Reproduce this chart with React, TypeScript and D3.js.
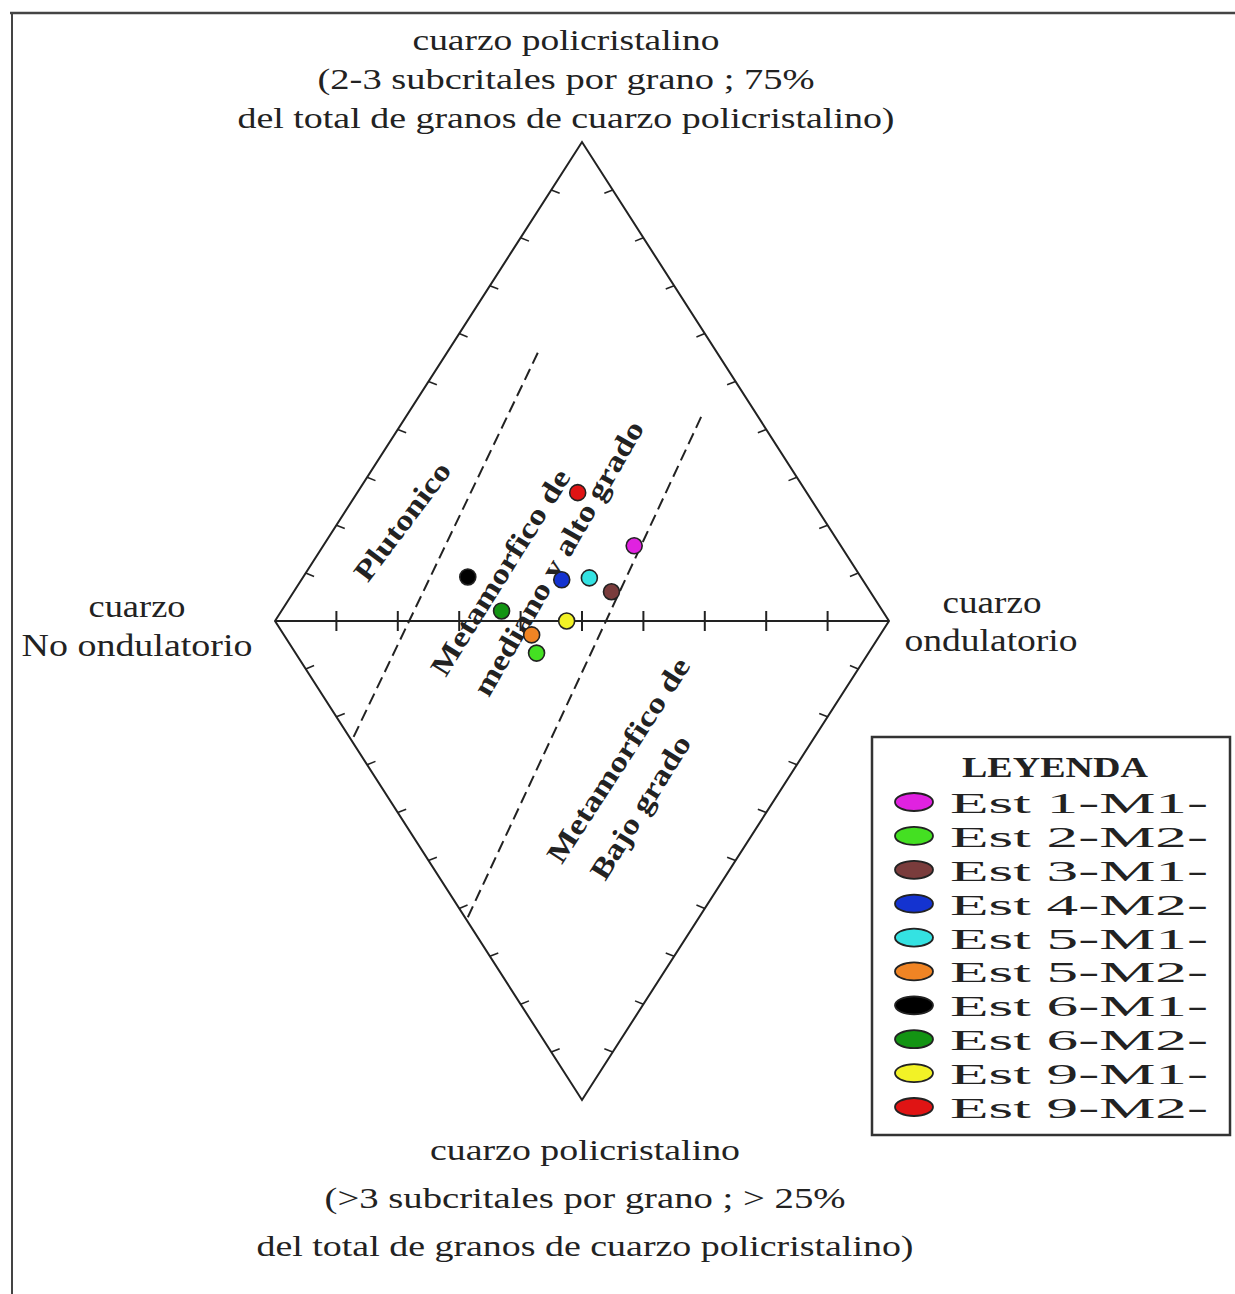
import * as d3 from "d3";

// diamond coordinates: u = 0..100 along the horizontal axis, v = -100..100 vertical
const TICKS = [10, 20, 30, 40, 50, 60, 70, 80, 90];

const SAMPLE_NAMES = [
  "Est 1-M1-", "Est 2-M2-", "Est 3-M1-", "Est 4-M2-", "Est 5-M1-",
  "Est 5-M2-", "Est 6-M1-", "Est 6-M2-", "Est 9-M1-", "Est 9-M2-",
];
const SAMPLE_COLORS = [
  "#e022e0", "#44e022", "#7a3c3c", "#1433d0", "#34e2e2",
  "#f08424", "#000000", "#139413", "#f2f226", "#e01414",
];
const SAMPLE_U = [58.5, 42.6, 54.8, 46.7, 51.2, 41.8, 31.4, 36.9, 47.5, 49.3];
const SAMPLE_V = [15.7, -6.7, 6.1, 8.6, 9.0, -2.9, 9.2, 2.1, 0, 26.8];

// field boundaries (dashed)
const BOUNDARY_U1 = [42.8, 69.4];
const BOUNDARY_V1 = [56.0, 42.6];
const BOUNDARY_U2 = [12.5, 31.2];
const BOUNDARY_V2 = [-25.0, -62.4];

const TOP_LABEL = [
  "cuarzo policristalino",
  "(2-3 subcritales por grano ;  75%",
  "del total de granos de cuarzo policristalino)",
];
const BOTTOM_LABEL = [
  "cuarzo policristalino",
  "(>3 subcritales por grano ; > 25%",
  "del total de granos de cuarzo policristalino)",
];

const W = 1235;
const H = 1294;
const FONT = "'Liberation Serif', 'Times New Roman', serif";

export default function App() {
  const x = d3.scaleLinear().domain([0, 100]).range([275, 889]);
  const y = d3.scaleLinear().domain([-100, 100]).range([1100, 142]);

  const corners: [number, number][] = [
    [0, 0], [50, 100], [100, 0], [50, -100],
  ];
  const outline = d3.line<[number, number]>()
    .x((d) => x(d[0]))
    .y((d) => y(d[1]))
    .curve(d3.curveLinearClosed)(corners) ?? "";

  // edge ticks: points along each edge, tick drawn toward interior
  const edges = [
    { a: [0, 0], b: [50, 100], dir: [0.93, 0.37] },
    { a: [100, 0], b: [50, 100], dir: [-0.93, 0.37] },
    { a: [0, 0], b: [50, -100], dir: [0.93, -0.37] },
    { a: [100, 0], b: [50, -100], dir: [-0.93, -0.37] },
  ];
  const tickLen = 9;

  const rotLabels = [
    { text: "Plutonico", cx: 402, cy: 521, angle: -53, len: 141 },
    { text: "Metamorfico de", cx: 500, cy: 572, angle: -58, len: 237 },
    { text: "mediano y alto grado", cx: 558, cy: 558, angle: -60, len: 312 },
    { text: "Metamorfico de", cx: 618, cy: 760, angle: -57, len: 238 },
    { text: "Bajo grado", cx: 640, cy: 807, angle: -58, len: 164 },
  ];

  const legendY = d3.scaleLinear().domain([0, 9]).range([802, 1107]);

  return (
    <div style={{ position: "absolute", left: 0, top: 0 }}>
      <svg width={W} height={H} style={{ display: "block", background: "#fff" }} fontFamily={FONT}>
        {/* frame */}
        <line x1={10} x2={W} y1={13} y2={13} stroke="#444" strokeWidth={2.5} />
        <line x1={12} x2={12} y1={12} y2={H} stroke="#444" strokeWidth={2} />

        {/* diamond */}
        <path d={outline} fill="none" stroke="#222" strokeWidth={2} />
        <line x1={x(0)} x2={x(100)} y1={y(0)} y2={y(0)} stroke="#222" strokeWidth={2} />
        {TICKS.map((t) => (
          <line key={"h" + t} x1={x(t)} x2={x(t)} y1={y(0) - 10} y2={y(0) + 10} stroke="#222" strokeWidth={2} />
        ))}
        {edges.map((e, i) =>
          TICKS.map((t) => {
            const f = t / 100;
            const px = x(e.a[0] + (e.b[0] - e.a[0]) * f);
            const py = y(e.a[1] + (e.b[1] - e.a[1]) * f);
            return (
              <line key={`e${i}-${t}`} x1={px} y1={py} x2={px + e.dir[0] * tickLen} y2={py + e.dir[1] * tickLen}
                stroke="#222" strokeWidth={1.6} />
            );
          })
        )}

        {/* dashed field boundaries */}
        {[0, 1].map((i) => (
          <line key={"b" + i} x1={x(BOUNDARY_U1[i])} y1={y(BOUNDARY_V1[i])} x2={x(BOUNDARY_U2[i])} y2={y(BOUNDARY_V2[i])}
            stroke="#222" strokeWidth={2} strokeDasharray="12 6" />
        ))}

        {/* field names */}
        {rotLabels.map((l, i) => (
          <text key={"r" + i} transform={`translate(${l.cx},${l.cy}) rotate(${l.angle})`} textAnchor="middle" dy="0.35em"
            fontSize={29} fontWeight="bold" fill="#222" textLength={l.len} lengthAdjust="spacingAndGlyphs">
            {l.text}
          </text>
        ))}

        {/* samples */}
        {SAMPLE_U.map((u, i) => (
          <circle key={"p" + i} cx={x(u)} cy={y(SAMPLE_V[i])} r={8} fill={SAMPLE_COLORS[i]} stroke="#222" strokeWidth={1.6} />
        ))}

        {/* apex labels */}
        {TOP_LABEL.map((s, i) => (
          <text key={"t" + i} x={566} y={50 + i * 39} textAnchor="middle" fontSize={29} fill="#222"
            textLength={[307, 497, 657][i]} lengthAdjust="spacingAndGlyphs">{s}</text>
        ))}
        {BOTTOM_LABEL.map((s, i) => (
          <text key={"bt" + i} x={585} y={1160 + i * 48} textAnchor="middle" fontSize={29} fill="#222"
            textLength={[310, 521, 657][i]} lengthAdjust="spacingAndGlyphs">{s}</text>
        ))}
        <text x={137} y={617} textAnchor="middle" fontSize={31} fill="#222" textLength={97} lengthAdjust="spacingAndGlyphs">cuarzo</text>
        <text x={137} y={656} textAnchor="middle" fontSize={31} fill="#222" textLength={231} lengthAdjust="spacingAndGlyphs">No ondulatorio</text>
        <text x={992} y={613} textAnchor="middle" fontSize={31} fill="#222" textLength={99} lengthAdjust="spacingAndGlyphs">cuarzo</text>
        <text x={991} y={651} textAnchor="middle" fontSize={31} fill="#222" textLength={173} lengthAdjust="spacingAndGlyphs">ondulatorio</text>

        {/* legend */}
        <rect x={872} y={737} width={358} height={398} fill="#fff" stroke="#333" strokeWidth={2.5} />
        <text x={1055} y={777} textAnchor="middle" fontSize={30} fontWeight="bold" fill="#222" textLength={186} lengthAdjust="spacingAndGlyphs">LEYENDA</text>
        {SAMPLE_NAMES.map((n, i) => (
          <g key={"l" + i}>
            <ellipse cx={914} cy={legendY(i)} rx={19} ry={9} fill={SAMPLE_COLORS[i]} stroke="#222" strokeWidth={1.8} />
            <text x={950} y={legendY(i) + 11} fontSize={30} fill="#222" textLength={258} lengthAdjust="spacingAndGlyphs">{n}</text>
          </g>
        ))}
      </svg>
    </div>
  );
}
